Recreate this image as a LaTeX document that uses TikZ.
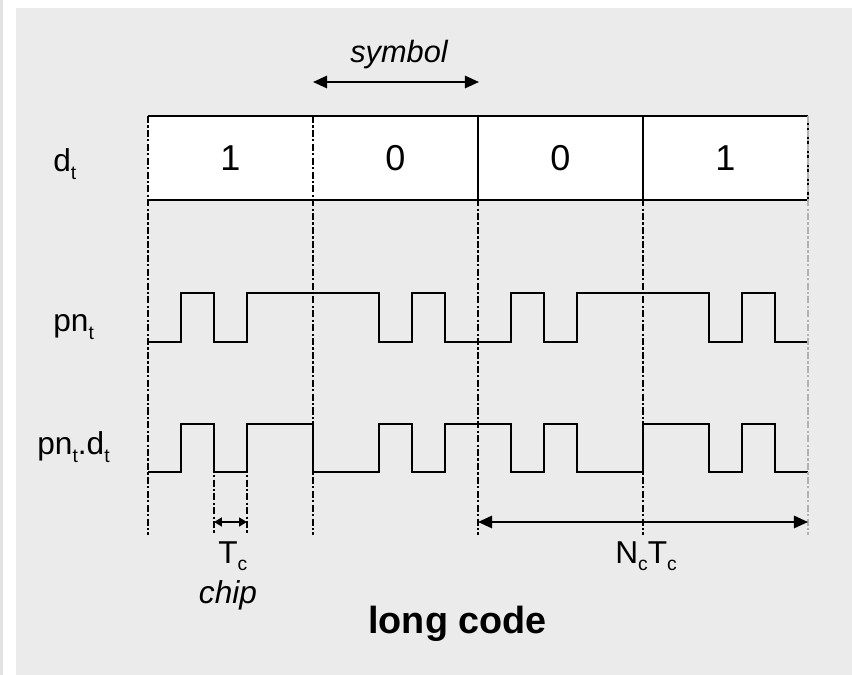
\documentclass[tikz,border=0pt]{standalone}
\usepackage{fontspec}
\setmainfont{Liberation Sans}
\usetikzlibrary{arrows.meta,positioning,calc}
\definecolor{panelgray}{RGB}{235,235,235}
\definecolor{edgegray}{RGB}{226,226,226}
\newcommand{\lowsub}[1]{\raisebox{-4.5pt}{\fontsize{11}{12}\selectfont #1}}
\begin{document}
\begin{tikzpicture}[x=0.02cm,y=-0.02cm,
  lbl/.style={font=\fontsize{18}{20}\selectfont,inner sep=0pt},
  bit/.style={font=\fontsize{20.5}{22}\selectfont,inner sep=0pt},
  sig/.style={line width=1.3pt,line join=miter},
  guide/.style={line width=1.4pt,dash pattern=on 4pt off 1.3pt on 1.3pt off 1.3pt},
  span/.style={line width=1.2pt,{Triangle[length=8pt,width=7pt]}-{Triangle[length=8pt,width=7pt]}},
  tinyspan/.style={line width=1.2pt,{Triangle[length=4.5pt,width=5pt]}-{Triangle[length=4.5pt,width=5pt]}}]
  \useasboundingbox (0,0) rectangle (852,675);
  \fill[white] (0,0) rectangle (852,675);
  \fill[edgegray] (0,0) rectangle (3,675);
  \fill[panelgray] (16,8) rectangle (852,675);
  \foreach \i in {0,...,4} {
    \coordinate (top\i) at ({148+165*\i},116);
    \coordinate (bot\i) at ({148+165*\i},535);
  }
  \fill[white] (top0) rectangle (808,200);
  \draw[line width=1.3pt] (top0) -- (top4);
  \draw[line width=1.3pt] (148,200) -- (808,200);
  \foreach \i in {2,3,4} \draw[line width=1.3pt] (top\i) -- ++(0,84);
  \foreach \b [count=\i] in {1,0,0,1}
    \node[bit] (bit\i) at ({148+165*(\i-0.5)},158) {\b};
  \node[lbl,anchor=base west] (dlab) at (53,172) {d\lowsub{t}};
  \node[lbl,anchor=base west] (pnlab) at (53,332) {pn\lowsub{t}};
  \node[lbl,anchor=base west] (pndlab) at (37,455) {pn\lowsub{t}.d\lowsub{t}};
  \draw[sig] (148,342) foreach \c [count=\i from 0] in {0,1,0,1,1,1,1,0,1,0,0,1,0,1,1,1,1,0,1,0}
    { -- ({148+33*\i},{342-49*\c}) -- ({148+33*(\i+1)},{342-49*\c}) };
  \draw[sig] (148,472) foreach \c [count=\i from 0] in {0,1,0,1,1,0,0,1,0,1,1,0,1,0,0,1,1,0,1,0}
    { -- ({148+33*\i},{472-48*\c}) -- ({148+33*(\i+1)},{472-48*\c}) };
  \foreach \i in {0,...,3} \draw[guide] (top\i) -- (bot\i);
  \draw[guide,gray!60] (top4) -- (bot4);
  \coordinate (chipA) at (214,424);
  \coordinate (chipB) at (247,424);
  \draw[guide] (chipA) -- (chipA |- bot0);
  \draw[guide] (chipB) -- (chipB |- bot0);
  \coordinate (symL) at (313,82);
  \coordinate (symR) at (479,82);
  \draw[span] (symL) -- (symR);
  \node[lbl,anchor=base,font=\fontsize{17.5}{19}\selectfont\itshape] (symlab) at (399,63) {symbol};
  \coordinate (tcL) at (214,522);
  \coordinate (tcR) at (247,522);
  \draw[tinyspan] (tcL) -- (tcR);
  \node[lbl,anchor=base west] (tclab) at (218,563) {T\lowsub{c}};
  \node[lbl,anchor=base,font=\fontsize{18}{20}\selectfont\itshape] (chiplab) at (228,603) {chip};
  \coordinate (ncL) at (478,522);
  \coordinate (ncR) at (808,522);
  \draw[span] (ncL) -- (ncR);
  \node[lbl,anchor=base west] (nclab) at (615,563) {N\lowsub{c}T\lowsub{c}};
  \node[anchor=base west,inner sep=0pt,font=\fontsize{21.5}{24}\selectfont\bfseries] (longlab) at (368,633) {long code};
\end{tikzpicture}
\end{document}
